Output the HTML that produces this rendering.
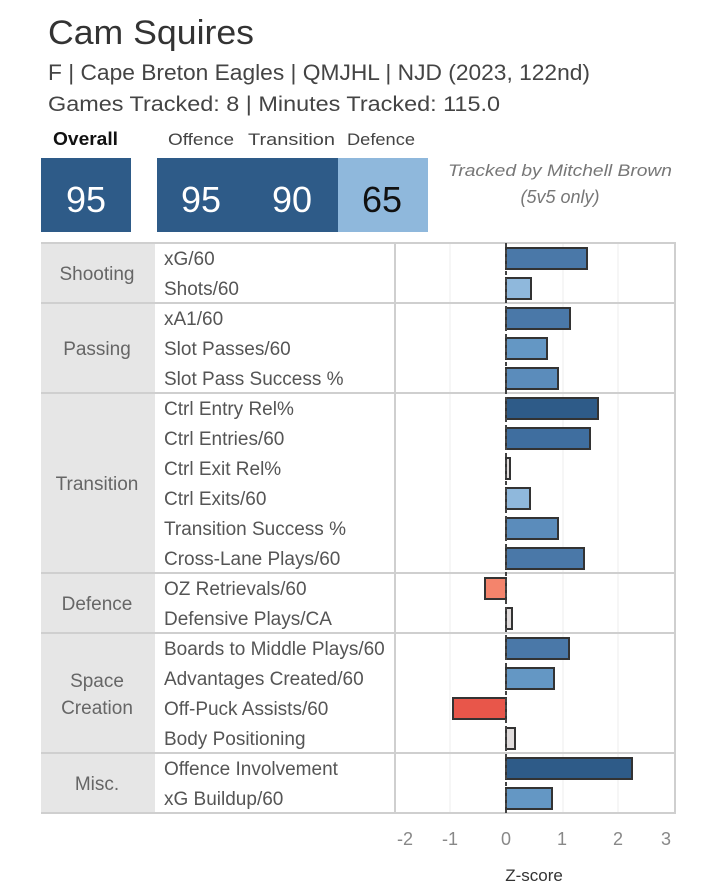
<!DOCTYPE html>
<html><head><meta charset="utf-8"><style>
html,body{margin:0;padding:0;background:#fff;}
svg{display:block;font-family:"Liberation Sans",sans-serif;}
</style></head><body>
<svg width="714" height="883" viewBox="0 0 714 883" xmlns="http://www.w3.org/2000/svg">
<text x="48" y="44" font-size="34" fill="#333" textLength="206" lengthAdjust="spacingAndGlyphs">Cam Squires</text>
<text x="48" y="80" font-size="22" fill="#444" textLength="542" lengthAdjust="spacingAndGlyphs">F | Cape Breton Eagles | QMJHL | NJD (2023, 122nd)</text>
<text x="48" y="111" font-size="21" fill="#444" textLength="452" lengthAdjust="spacingAndGlyphs">Games Tracked: 8 | Minutes Tracked: 115.0</text>
<text x="53" y="145" font-size="18" font-weight="bold" fill="#111" textLength="65" lengthAdjust="spacingAndGlyphs">Overall</text>
<text x="168" y="145" font-size="17" fill="#444" textLength="66" lengthAdjust="spacingAndGlyphs">Offence</text>
<text x="248" y="145" font-size="17" fill="#444" textLength="87" lengthAdjust="spacingAndGlyphs">Transition</text>
<text x="347" y="145" font-size="17" fill="#444" textLength="68" lengthAdjust="spacingAndGlyphs">Defence</text>
<rect x="41" y="158" width="90" height="74" fill="#2e5b88"/>
<text x="86" y="212" font-size="36" fill="#fff" text-anchor="middle">95</text>
<rect x="157" y="158" width="181" height="74" fill="#2e5b88"/>
<rect x="338" y="158" width="90" height="74" fill="#8fb8dc"/>
<text x="201" y="212" font-size="36" fill="#fff" text-anchor="middle">95</text>
<text x="292" y="212" font-size="36" fill="#fff" text-anchor="middle">90</text>
<text x="382" y="212" font-size="36" fill="#111" text-anchor="middle">65</text>
<text x="560" y="176" font-size="17" font-style="italic" fill="#777" text-anchor="middle" textLength="224" lengthAdjust="spacingAndGlyphs">Tracked by Mitchell Brown</text>
<text x="560" y="203" font-size="18" font-style="italic" fill="#777" text-anchor="middle">(5v5 only)</text>

<rect x="41" y="243" width="114" height="570" fill="#e6e6e6"/>
<g stroke="#ececec" stroke-width="1">
<line x1="450" y1="243" x2="450" y2="813"/>
<line x1="563" y1="243" x2="563" y2="813"/>
<line x1="618" y1="243" x2="618" y2="813"/>
</g>
<g stroke="#cfcfcf" stroke-width="2" fill="none">
<line x1="41" y1="243" x2="676" y2="243"/>
<line x1="41" y1="303" x2="676" y2="303"/>
<line x1="41" y1="393" x2="676" y2="393"/>
<line x1="41" y1="573" x2="676" y2="573"/>
<line x1="41" y1="633" x2="676" y2="633"/>
<line x1="41" y1="753" x2="676" y2="753"/>
<line x1="41" y1="813" x2="676" y2="813"/>
<line x1="395" y1="243" x2="395" y2="813"/>
<line x1="675" y1="243" x2="675" y2="813"/>
</g>
<g font-size="19" fill="#666" text-anchor="middle">
<text x="97" y="280">Shooting</text>
<text x="97" y="355">Passing</text>
<text x="97" y="490">Transition</text>
<text x="97" y="610">Defence</text>
<text x="97" y="687">Space</text>
<text x="97" y="714">Creation</text>
<text x="97" y="790">Misc.</text>
</g>
<g font-size="19" fill="#555">
<text x="164" y="265">xG/60</text>
<text x="164" y="295">Shots/60</text>
<text x="164" y="325">xA1/60</text>
<text x="164" y="355">Slot Passes/60</text>
<text x="164" y="385">Slot Pass Success %</text>
<text x="164" y="415">Ctrl Entry Rel%</text>
<text x="164" y="445">Ctrl Entries/60</text>
<text x="164" y="475">Ctrl Exit Rel%</text>
<text x="164" y="505">Ctrl Exits/60</text>
<text x="164" y="535">Transition Success %</text>
<text x="164" y="565">Cross-Lane Plays/60</text>
<text x="164" y="595">OZ Retrievals/60</text>
<text x="164" y="625">Defensive Plays/CA</text>
<text x="164" y="655">Boards to Middle Plays/60</text>
<text x="164" y="685">Advantages Created/60</text>
<text x="164" y="715">Off-Puck Assists/60</text>
<text x="164" y="745">Body Positioning</text>
<text x="164" y="775">Offence Involvement</text>
<text x="164" y="805">xG Buildup/60</text>
</g>
<g stroke="#333" stroke-width="2">
<rect x="506" y="248" width="81" height="21" fill="#4a78a8"/>
<rect x="506" y="278" width="25" height="21" fill="#8fb8dc"/>
<rect x="506" y="308" width="64" height="21" fill="#4a78a8"/>
<rect x="506" y="338" width="41" height="21" fill="#6497c4"/>
<rect x="506" y="368" width="52" height="21" fill="#5b8cbb"/>
<rect x="506" y="398" width="92" height="21" fill="#2e5b88"/>
<rect x="506" y="428" width="84" height="21" fill="#3f6e9f"/>
<rect x="506" y="458" width="4" height="21" fill="#e0dcdc"/>
<rect x="506" y="488" width="24" height="21" fill="#8fb8dc"/>
<rect x="506" y="518" width="52" height="21" fill="#5b8cbb"/>
<rect x="506" y="548" width="78" height="21" fill="#4a78a8"/>
<rect x="485" y="578" width="21" height="21" fill="#f4846c"/>
<rect x="506" y="608" width="6" height="21" fill="#e0dcdc"/>
<rect x="506" y="638" width="63" height="21" fill="#4a78a8"/>
<rect x="506" y="668" width="48" height="21" fill="#6497c4"/>
<rect x="453" y="698" width="53" height="21" fill="#e8564a"/>
<rect x="506" y="728" width="9" height="21" fill="#e0dcdc"/>
<rect x="506" y="758" width="126" height="21" fill="#2e5b88"/>
<rect x="506" y="788" width="46" height="21" fill="#6497c4"/>
</g>
<line x1="506" y1="243" x2="506" y2="813" stroke="#444" stroke-width="2" stroke-dasharray="4,3"/>
<g font-size="18" fill="#888" text-anchor="middle">
<text x="405" y="845">-2</text>
<text x="450" y="845">-1</text>
<text x="506" y="845">0</text>
<text x="562" y="845">1</text>
<text x="618" y="845">2</text>
<text x="666" y="845">3</text>
</g>
<text x="534" y="881" font-size="17" fill="#333" text-anchor="middle">Z-score</text>
</svg>
</body></html>
